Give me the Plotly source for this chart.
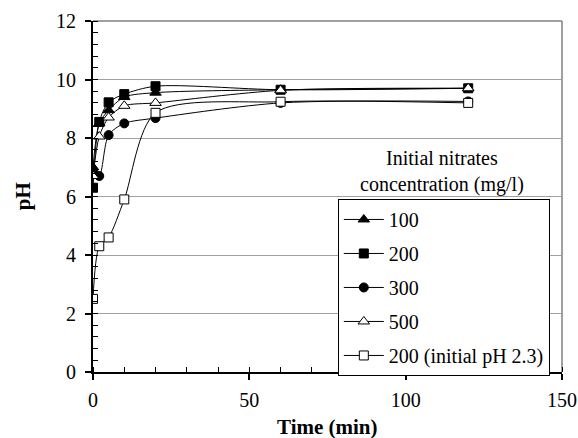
import plotly.graph_objects as go

time_min = [0, 2, 5, 10, 20, 60, 120]
ph_100 = [7.0, 8.5, 8.95, 9.4, 9.55, 9.65, 9.7]
ph_200 = [6.3, 8.55, 9.22, 9.5, 9.77, 9.65, 9.7]
ph_300 = [6.9, 6.7, 8.1, 8.5, 8.68, 9.2, 9.25]
ph_500 = [6.7, 8.05, 8.7, 9.1, 9.2, 9.63, 9.7]
ph_200_acid = [2.5, 4.3, 4.6, 5.9, 8.86, 9.24, 9.2]

series_names = ["100", "200", "300", "500", "200 (initial pH 2.3)"]
series_values = [ph_100, ph_200, ph_300, ph_500, ph_200_acid]
symbols = ["triangle-up", "square", "circle", "triangle-up", "square"]
fills = ["black", "black", "black", "white", "white"]
sizes = [10, 9, 9, 10, 9]

FONT = "Liberation Serif, Times New Roman, serif"
FS = 20

fig = go.Figure()
for i, (name, vals) in enumerate(zip(series_names, series_values)):
    fig.add_trace(go.Scatter(
        x=time_min, y=vals, name=name, mode="lines+markers",
        legendgroup=f"g{i}",
        line=dict(color="black", width=1, shape="spline", smoothing=0.8),
        marker=dict(symbol=symbols[i], size=sizes[i], color=fills[i],
                    line=dict(color="black", width=1)),
    ))

fig.update_layout(
    width=578, height=438,
    margin=dict(l=93, r=16, t=21, b=66),
    paper_bgcolor="white", plot_bgcolor="white",
    font=dict(family=FONT, size=FS, color="black"),
    showlegend=True,
    legend=dict(
        x=0.522, y=0.493, xanchor="left", yanchor="top",
        bgcolor="white", bordercolor="black", borderwidth=1,
        font=dict(family=FONT, size=FS), tracegroupgap=5,
        itemwidth=40,
    ),
    xaxis=dict(
        range=[0, 150], dtick=50, tick0=0, showgrid=False, zeroline=False,
        automargin=False,
        showline=True, linecolor="black", linewidth=2,
        ticks="outside", ticklen=6, tickwidth=1.5, tickcolor="black",
        ticklabelstandoff=3,
        minor=dict(dtick=10, ticks="inside", ticklen=5, tickcolor="black", tickwidth=1),
        tickfont=dict(family=FONT, size=FS),
    ),
    yaxis=dict(
        range=[0, 12], dtick=2, tick0=0, showgrid=True, gridcolor="#a0a0a0", gridwidth=1,
        zeroline=False,
        automargin=False,
        showline=True, linecolor="black", linewidth=2,
        ticks="outside", ticklen=6, tickwidth=1.5, tickcolor="black",
        ticklabelstandoff=5,
        minor=dict(dtick=0.4, ticks="inside", ticklen=5, tickcolor="black", tickwidth=1),
        tickfont=dict(family=FONT, size=FS),
    ),
    shapes=[
        dict(type="line", xref="paper", yref="paper", x0=1, x1=1, y0=0, y1=1,
             line=dict(color="#808080", width=1.5), layer="below"),
        dict(type="line", xref="paper", yref="paper", x0=0, x1=1, y0=1, y1=1,
             line=dict(color="#808080", width=1.5), layer="below"),
    ],
    annotations=[
        dict(text="Initial nitrates<br>concentration (mg/l)", xref="paper", yref="paper",
             x=0.745, y=0.648, xanchor="center", yanchor="top", showarrow=False,
             align="center", font=dict(family=FONT, size=FS)),
        dict(text="<b>Time (min)</b>", xref="paper", yref="paper",
             x=0.5, y=-0.157, xanchor="center", yanchor="middle", showarrow=False,
             font=dict(family=FONT, size=21)),
        dict(text="<b>pH</b>", xref="paper", yref="paper", textangle=-90,
             x=-0.150, y=0.5, xanchor="center", yanchor="middle", showarrow=False,
             font=dict(family=FONT, size=21)),
    ],
)

fig.write_html("out.html")
